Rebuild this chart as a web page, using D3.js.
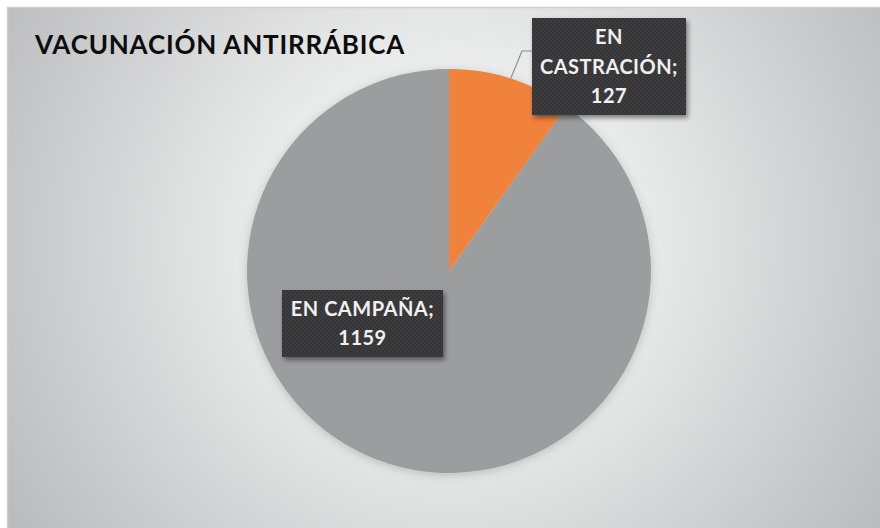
<!DOCTYPE html>
<html><head><meta charset="utf-8">
<script src="https://cdn.jsdelivr.net/npm/d3@7"></script>
<style>html,body{margin:0;padding:0;background:#fff;}svg{display:block;}</style>
</head><body>
<svg id="c" width="880" height="528"></svg>
<script>
const title = "VACUNACIÓN ANTIRRÁBICA";
const categories = ["EN CASTRACIÓN", "EN CAMPAÑA"];
const values = [127, 1159];
const colors = ["#F0823A", "#9C9D9F"];

const svg = d3.select("#c");
const defs = svg.append("defs");
const bg = defs.append("radialGradient").attr("id","bg")
  .attr("gradientUnits","userSpaceOnUse").attr("cx",449).attr("cy",240).attr("r",520);
bg.append("stop").attr("offset",0).attr("stop-color","#ffffff");
bg.append("stop").attr("offset",0.42).attr("stop-color","#e6e7e7");
bg.append("stop").attr("offset",1).attr("stop-color","#b9bbbc");

const pat = defs.append("pattern").attr("id","dots").attr("patternUnits","userSpaceOnUse")
  .attr("width",4).attr("height",4);
pat.append("rect").attr("width",4).attr("height",4).attr("fill","#3c3d3e");
pat.append("circle").attr("cx",1).attr("cy",1).attr("r",0.8).attr("fill","#2c2d2e");
pat.append("circle").attr("cx",3).attr("cy",3).attr("r",0.8).attr("fill","#2c2d2e");

const sh = defs.append("filter").attr("id","sh").attr("x","-20%").attr("y","-20%").attr("width","140%").attr("height","150%");
sh.append("feDropShadow").attr("dx",2).attr("dy",3).attr("stdDeviation",2.5).attr("flood-color","#000").attr("flood-opacity",0.45);

const glow = defs.append("filter").attr("id","glow").attr("x","-20%").attr("y","-20%").attr("width","140%").attr("height","140%");
glow.append("feDropShadow").attr("dx",0).attr("dy",2).attr("stdDeviation",5).attr("flood-color","#000").attr("flood-opacity",0.18);

// chart area
svg.append("rect").attr("x",7.5).attr("y",7.5).attr("width",880).attr("height",530)
  .attr("fill","url(#bg)").attr("stroke","#cfd0d0").attr("stroke-width",1.5);

svg.append("text").attr("x",35).attr("y",54).text(title)
  .attr("font-family","Lato, sans-serif").attr("font-weight",700)
  .attr("font-size",26).attr("letter-spacing",0.8).attr("fill","#0d0d0d");

const cx = 449, cy = 271, R = 202;
const pie = d3.pie().sort(null).value(d => d.v);
const data = pie(categories.map((c,i)=>({c, v: values[i], col: colors[i]})));
const arc = d3.arc().innerRadius(0).outerRadius(R);
const g = svg.append("g").attr("transform",`translate(${cx},${cy})`).attr("filter","url(#glow)");
g.selectAll("path").data(data).join("path").attr("d",arc).attr("fill",d=>d.data.col);

// leader line for small slice
const a0 = (data[0].startAngle + data[0].endAngle)/2;
const p0 = [cx + R*Math.sin(a0), cy - R*Math.cos(a0)];
svg.append("polyline").attr("points",`${p0[0]},${p0[1]} ${522},${51} ${533},${51}`)
  .attr("fill","none").attr("stroke","#8a8b8c").attr("stroke-width",1.2);

// label boxes
const labels = [
  {box:[532,18,154,97], lines:["EN","CASTRACIÓN;", String(values[0])]},
  {box:[282,290,161,67], lines:[categories[1]+";", String(values[1])]}
];
labels.forEach(l=>{
  const [x,y,w,h] = l.box;
  svg.append("rect").attr("x",x).attr("y",y).attr("width",w).attr("height",h)
    .attr("fill","url(#dots)").attr("filter","url(#sh)");
  const lh = 29.5;
  const n = l.lines.length;
  const t0 = y + h/2 - (n-1)*lh/2;
  l.lines.forEach((s,i)=>{
    svg.append("text").attr("x",x+w/2).attr("y",t0+i*lh).attr("dy","0.36em")
      .attr("text-anchor","middle").text(s)
      .attr("font-family","Lato, sans-serif").attr("font-weight",700)
      .attr("font-size",20).attr("letter-spacing",0.5).attr("fill","#f0f0f0");
  });
});
</script>
</body></html>
